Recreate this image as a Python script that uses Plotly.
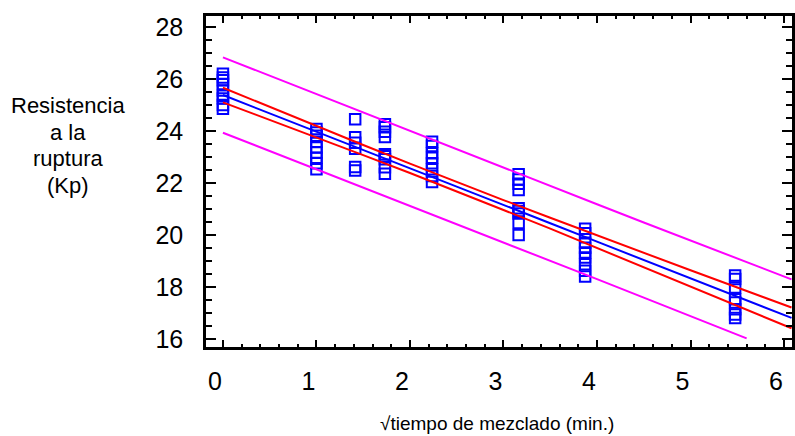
import plotly.graph_objects as go

# ---- data ----
x_levels = [0.0, 1.0, 1.414, 1.732, 2.236, 3.162, 3.873, 5.477]
resist_0 = [26.2, 26.05, 25.95, 25.8, 25.55, 25.35, 25.25, 25.0, 24.85]
resist_1 = [24.07, 23.94, 23.81, 23.58, 23.36, 23.17, 22.97, 22.76, 22.53]
resist_2 = [24.45, 23.76, 23.55, 23.31, 22.61, 22.48]
resist_3 = [24.26, 24.14, 23.97, 23.77, 23.1, 23.03, 22.91, 22.6, 22.35]
resist_4 = [23.58, 23.42, 23.14, 22.97, 22.76, 22.53, 22.27, 22.04]
resist_5 = [22.33, 22.13, 21.97, 21.73, 21.03, 20.92, 20.82, 20.46, 20.0]
resist_6 = [20.24, 20.06, 19.70, 19.51, 19.32, 19.13, 18.87, 18.62, 18.40]
resist_7 = [18.44, 18.31, 17.98, 17.53, 17.40, 17.14, 16.94, 16.81]
groups = [resist_0, resist_1, resist_2, resist_3, resist_4, resist_5, resist_6, resist_7]

line_x = [0.0, 0.5, 1.0, 1.5, 2.0, 2.5, 3.0, 3.5, 4.0, 4.5, 5.0, 5.5, 6.08]
fit_y = [25.38, 24.68, 23.97, 23.27, 22.56, 21.86, 21.15, 20.45, 19.74, 19.04, 18.33, 17.63, 16.81]
conf_hi = [25.66, 24.92, 24.19, 23.46, 22.74, 22.03, 21.34, 20.66, 19.98, 19.31, 18.64, 17.98, 17.21]
conf_lo = [25.10, 24.43, 23.75, 23.07, 22.38, 21.68, 20.96, 20.24, 19.50, 18.76, 18.02, 17.28, 16.41]
pred_hi = [26.83, 26.12, 25.41, 24.70, 23.99, 23.29, 22.58, 21.88, 21.18, 20.48, 19.79, 19.09, 18.29]
pred_lo_x = [0.0, 0.5, 1.0, 1.5, 2.0, 2.5, 3.0, 3.5, 4.0, 4.5, 5.0, 5.5, 5.6]
pred_lo = [23.93, 23.23, 22.53, 21.83, 21.13, 20.42, 19.72, 19.01, 18.30, 17.59, 16.88, 16.16, 16.02]

x_ticks = [0, 1, 2, 3, 4, 5, 6]
y_ticks = [16, 18, 20, 22, 24, 26, 28]
y_title_lines = ["Resistencia", "a la", "ruptura", "(Kp)"]
x_title = "√tiempo de mezclado (min.)"

FONT = "Liberation Sans, Arial, sans-serif"

pts_x, pts_y = [], []
for xv, g in zip(x_levels, groups):
    pts_x += [xv] * len(g)
    pts_y += g

fig = go.Figure()
fig.add_trace(go.Scatter(x=pts_x, y=pts_y, mode="markers",
                         marker=dict(symbol="square-open", size=10.5,
                                     line=dict(color="#0000FF", width=2),
                                     color="#0000FF"),
                         cliponaxis=False))
fig.add_trace(go.Scatter(x=line_x, y=pred_hi, mode="lines", line=dict(color="#FF00FF", width=2)))
fig.add_trace(go.Scatter(x=pred_lo_x, y=pred_lo, mode="lines", line=dict(color="#FF00FF", width=2)))
fig.add_trace(go.Scatter(x=line_x, y=conf_hi, mode="lines", line=dict(color="#FF0000", width=2)))
fig.add_trace(go.Scatter(x=line_x, y=conf_lo, mode="lines", line=dict(color="#FF0000", width=2)))
fig.add_trace(go.Scatter(x=line_x, y=fit_y, mode="lines", line=dict(color="#0000FF", width=2)))

L, R, T, B = 206, 0, 16, 89
W, H = 795, 436
pw, ph = W - L - R, H - T - B

def px2paper(px, py):
    return (px - L) / pw, (H - B - py) / ph

annotations = []
for txt, py in zip(y_title_lines, [105, 132, 159, 186]):
    ax, ay = px2paper(67, py)
    annotations.append(dict(text=txt, x=ax, y=ay, xref="paper", yref="paper",
                            showarrow=False, xanchor="center", yanchor="middle",
                            font=dict(family=FONT, size=22, color="black")))
ax, ay = px2paper(498, 423)
annotations.append(dict(text=x_title, x=ax, y=ay, xref="paper", yref="paper",
                        showarrow=False, xanchor="center", yanchor="middle",
                        font=dict(family=FONT, size=19, color="black")))

fig.update_layout(
    width=W, height=H, margin=dict(l=L, r=R, t=T, b=B, pad=0),
    paper_bgcolor="white", plot_bgcolor="white", showlegend=False,
    font=dict(family=FONT, color="black"),
    annotations=annotations,
    xaxis=dict(range=[-0.181, 6.085], tickvals=x_ticks, ticktext=[str(v) for v in x_ticks],
               showline=True, linecolor="black", linewidth=2.5, mirror="allticks",
               ticks="inside", ticklen=7, tickwidth=2, tickcolor="black",
               minor=dict(tick0=0, dtick=0.2, ticks="inside", ticklen=3, tickwidth=1.5, tickcolor="black"),
               showgrid=False, zeroline=False, tickfont=dict(family=FONT, size=25),
               ticklabelstandoff=10, ticklabelshift=-8),
    yaxis=dict(range=[15.69, 28.42], tickvals=y_ticks, ticktext=[str(v) for v in y_ticks],
               showline=True, linecolor="black", linewidth=2.5, mirror="ticks",
               ticks="inside", ticklen=10, tickwidth=2, tickcolor="black",
               minor=dict(tick0=16, dtick=0.5, ticks="inside", ticklen=6, tickwidth=1.5, tickcolor="black"),
               showgrid=False, zeroline=False, tickfont=dict(family=FONT, size=25),
               ticklabelstandoff=15),
)

fig.write_html("out.html")
